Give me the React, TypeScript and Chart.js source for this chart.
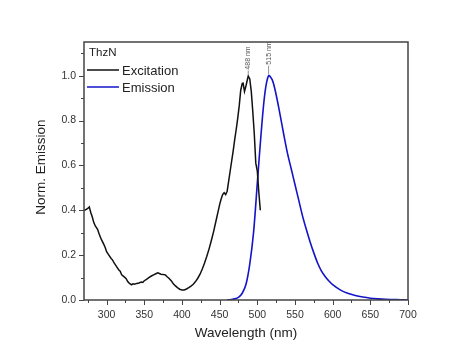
import React, { useEffect, useRef } from "react";
import { Chart, registerables } from "chart.js";

Chart.register(...registerables);

const excitationX = [270, 272, 275, 277, 279, 281, 283, 285, 288, 290, 293, 296, 298, 300, 303, 306, 308, 310, 313, 316, 318, 320, 323, 326, 328, 330, 333, 335, 337, 340, 343, 346, 348, 350, 353, 356, 360, 363, 366, 368, 370, 372, 375, 378, 380, 383, 386, 388, 391, 394, 397, 400, 403, 406, 409, 412, 415, 418, 421, 424, 427, 430, 433, 436, 439, 442, 445, 448, 450, 452, 454, 456, 458, 460, 462, 464, 466, 468, 470, 472, 474, 476, 478, 480, 481, 483, 485, 487, 488, 490, 492, 494, 496, 498, 500, 502, 504];
const excitationY = [0.4, 0.402, 0.408, 0.415, 0.39, 0.37, 0.345, 0.33, 0.315, 0.295, 0.27, 0.25, 0.235, 0.215, 0.2, 0.185, 0.178, 0.165, 0.15, 0.135, 0.128, 0.112, 0.104, 0.095, 0.082, 0.075, 0.068, 0.072, 0.07, 0.074, 0.076, 0.08, 0.078, 0.086, 0.092, 0.1, 0.108, 0.113, 0.118, 0.121, 0.118, 0.115, 0.114, 0.112, 0.105, 0.096, 0.085, 0.075, 0.064, 0.055, 0.048, 0.045, 0.045, 0.049, 0.055, 0.062, 0.07, 0.082, 0.097, 0.115, 0.138, 0.165, 0.195, 0.228, 0.265, 0.305, 0.35, 0.395, 0.425, 0.45, 0.47, 0.478, 0.47, 0.485, 0.53, 0.575, 0.62, 0.665, 0.715, 0.76, 0.81, 0.865, 0.935, 0.965, 0.97, 0.93, 0.955, 0.985, 0.998, 0.985, 0.93, 0.84, 0.74, 0.61, 0.575, 0.48, 0.4];

const emissionX = [460, 465, 470, 475, 480, 485, 490, 495, 500, 505, 510, 515, 520, 525, 530, 535, 540, 545, 550, 555, 560, 565, 570, 575, 580, 585, 590, 595, 600, 610, 620, 630, 640, 650, 660, 670, 680, 690, 700];
const emissionY = [0, 0.002, 0.005, 0.012, 0.03, 0.07, 0.16, 0.3, 0.52, 0.74, 0.92, 1.0, 0.98, 0.915, 0.83, 0.74, 0.655, 0.585, 0.515, 0.445, 0.375, 0.315, 0.26, 0.21, 0.165, 0.13, 0.105, 0.085, 0.068, 0.045, 0.03, 0.02, 0.013, 0.008, 0.005, 0.003, 0.002, 0.001, 0];

const xMajorTicks = [300, 350, 400, 450, 500, 550, 600, 650, 700];
const xMinorTicks = [275, 325, 375, 425, 475, 525, 575, 625, 675];
const yMajorTicks = [0, 0.2, 0.4, 0.6, 0.8, 1.0];
const yMinorTicks = [0.1, 0.3, 0.5, 0.7, 0.9, 1.1];

const legendTitle = "ThzN";
const seriesNames = ["Excitation", "Emission"];
const peakLabels = [
  { x: 488, y: 1.0, text: "488 nm" },
  { x: 515, y: 1.0, text: "515 nm" },
];

const FONT = "'Liberation Sans', Arial, sans-serif";
const AXIS = "#444";
const EXC_COLOR = "#111111";
const EM_COLOR = "#1414c8";

const decorPlugin = {
  id: "decor",
  afterDraw(chart: any) {
    const { ctx, chartArea } = chart;
    const xs = chart.scales.x;
    const ys = chart.scales.y;
    const { left, right, top, bottom } = chartArea;
    ctx.save();
    // frame
    ctx.strokeStyle = AXIS;
    ctx.lineWidth = 1.5;
    ctx.strokeRect(left, top, right - left, bottom - top);
    // ticks
    ctx.lineWidth = 1;
    ctx.beginPath();
    xMajorTicks.forEach((v) => {
      const p = Math.round(xs.getPixelForValue(v)) + 0.5;
      ctx.moveTo(p, bottom);
      ctx.lineTo(p, bottom + 5);
    });
    xMinorTicks.forEach((v) => {
      const p = Math.round(xs.getPixelForValue(v)) + 0.5;
      ctx.moveTo(p, bottom);
      ctx.lineTo(p, bottom + 3);
    });
    yMajorTicks.forEach((v) => {
      const p = Math.round(ys.getPixelForValue(v)) + 0.5;
      ctx.moveTo(left, p);
      ctx.lineTo(left - 5, p);
    });
    yMinorTicks.forEach((v) => {
      const p = Math.round(ys.getPixelForValue(v)) + 0.5;
      ctx.moveTo(left, p);
      ctx.lineTo(left - 3, p);
    });
    ctx.stroke();

    // axis titles
    ctx.fillStyle = "#222";
    ctx.font = `13.5px ${FONT}`;
    ctx.textAlign = "center";
    ctx.textBaseline = "middle";
    ctx.fillText("Wavelength (nm)", (left + right) / 2, 333);
    ctx.save();
    ctx.translate(41, 167);
    ctx.rotate(-Math.PI / 2);
    ctx.fillText("Norm. Emission", 0, 0);
    ctx.restore();

    // legend
    ctx.textAlign = "left";
    ctx.font = `11.5px ${FONT}`;
    ctx.fillText(legendTitle, left + 5, 53);
    const colors = [EXC_COLOR, EM_COLOR];
    const ly = [70, 87];
    ctx.font = `13px ${FONT}`;
    seriesNames.forEach((n, i) => {
      ctx.strokeStyle = colors[i];
      ctx.lineWidth = 1.5;
      ctx.beginPath();
      ctx.moveTo(left + 3, ly[i]);
      ctx.lineTo(left + 35, ly[i]);
      ctx.stroke();
      ctx.fillStyle = "#222";
      ctx.fillText(n, left + 38, ly[i] + 1);
    });

    // peak labels
    ctx.font = `7px ${FONT}`;
    ctx.fillStyle = "#555";
    ctx.strokeStyle = "#777";
    ctx.lineWidth = 0.8;
    peakLabels.forEach((pl, i) => {
      const px = xs.getPixelForValue(pl.x);
      const py = ys.getPixelForValue(pl.y);
      const gap = i === 0 ? 4 : 9;
      ctx.beginPath();
      ctx.moveTo(px, py - 1);
      ctx.lineTo(px, py - 1 - gap);
      ctx.stroke();
      ctx.save();
      ctx.translate(px, py - 1 - gap - 1);
      ctx.rotate(-Math.PI / 2);
      ctx.textAlign = "left";
      ctx.textBaseline = "middle";
      ctx.fillText(pl.text, 0, 0);
      ctx.restore();
    });
    ctx.restore();
  },
};

export default function App() {
  const ref = useRef<HTMLCanvasElement | null>(null);
  useEffect(() => {
    if (!ref.current) return;
    const chart = new Chart(ref.current, {
      type: "line",
      data: {
        datasets: [
          {
            label: seriesNames[0],
            data: excitationX.map((x, i) => ({ x, y: excitationY[i] })),
            borderColor: EXC_COLOR,
            borderWidth: 1.5,
            pointRadius: 0,
            tension: 0,
          },
          {
            label: seriesNames[1],
            data: emissionX.map((x, i) => ({ x, y: emissionY[i] })),
            borderColor: EM_COLOR,
            borderWidth: 1.6,
            pointRadius: 0,
            tension: 0.3,
          },
        ],
      },
      options: {
        animation: false,
        responsive: false,
        layout: { padding: { left: 0, right: 66, top: 42, bottom: 0 } },
        plugins: { legend: { display: false }, tooltip: { enabled: false } },
        scales: {
          x: {
            type: "linear",
            min: 270,
            max: 700,
            afterBuildTicks: (s: any) => {
              s.ticks = xMajorTicks.map((v) => ({ value: v }));
            },
            afterFit: (s: any) => {
              s.height = 61;
            },
            grid: { display: false, drawTicks: false },
            border: { display: false },
            ticks: {
              padding: 9,
              color: "#333",
              font: { family: FONT, size: 10.5 },
              maxRotation: 0,
              autoSkip: false,
            },
          },
          y: {
            type: "linear",
            min: 0,
            max: 1.15,
            afterBuildTicks: (s: any) => {
              s.ticks = yMajorTicks.map((v) => ({ value: v }));
            },
            afterFit: (s: any) => {
              s.width = 84;
            },
            grid: { display: false, drawTicks: false },
            border: { display: false },
            ticks: {
              padding: 8,
              color: "#333",
              font: { family: FONT, size: 10.5 },
              callback: (v: any) => Number(v).toFixed(1),
              autoSkip: false,
            },
          },
        },
      },
      plugins: [decorPlugin],
    });
    return () => chart.destroy();
  }, []);
  return (
    <div style={{ position: "fixed", left: 0, top: 0, width: 474, height: 361, background: "#fff" }}>
      <canvas ref={ref} width={474} height={361} style={{ width: 474, height: 361 }} />
    </div>
  );
}
